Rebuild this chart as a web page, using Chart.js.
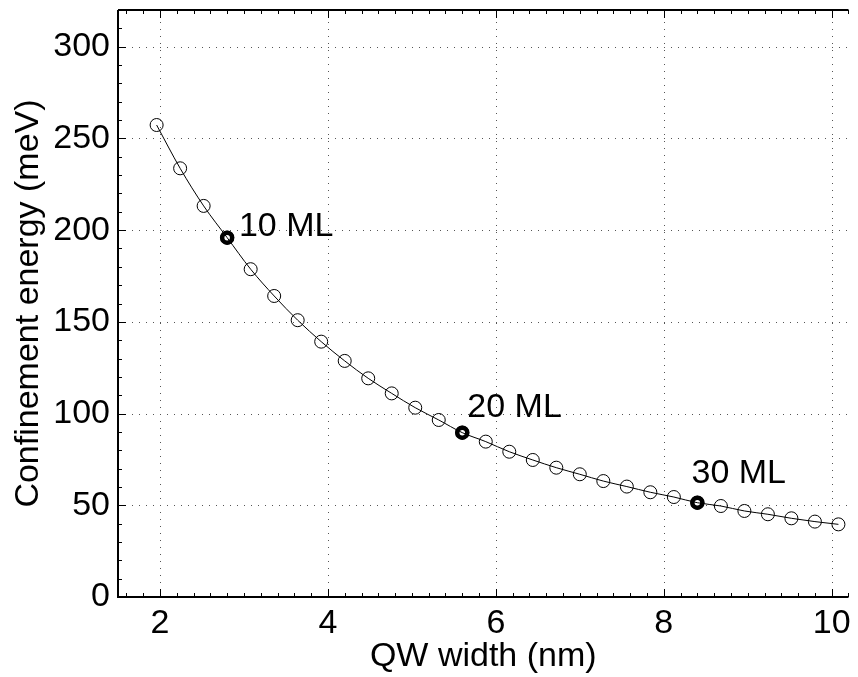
<!DOCTYPE html>
<html>
<head>
<meta charset="utf-8">
<script src="https://cdn.jsdelivr.net/npm/chart.js@4.4.0/dist/chart.umd.min.js"></script>
<style>
html, body { margin: 0; padding: 0; background: #fff; }
</style>
</head>
<body>
<canvas id="chart" width="858" height="677"></canvas>
<script>
// QW width (nm), one point per monolayer (7 ML ... 36 ML)
const widths = [1.96, 2.24, 2.52, 2.80, 3.08, 3.36, 3.64, 3.92, 4.20, 4.48,
                4.76, 5.04, 5.32, 5.60, 5.88, 6.16, 6.44, 6.72, 7.00, 7.28,
                7.56, 7.84, 8.12, 8.40, 8.68, 8.96, 9.24, 9.52, 9.80, 10.08];
// confinement energy (meV)
const energies = [257.3, 233.7, 213.2, 195.9, 178.7, 164.1, 150.9, 139.2, 128.7, 119.2,
                  111.0, 103.2, 96.5, 89.6, 84.7, 79.2, 74.7, 70.5, 66.9, 63.2,
                  60.2, 57.1, 54.5, 51.4, 49.6, 46.9, 45.1, 42.9, 41.1, 39.6];

// highlighted points
const markedNames = ['10 ML', '20 ML', '30 ML'];
const markedWidths = [2.80, 5.60, 8.40];
const markedEnergies = [195.9, 89.6, 51.4];
// where the label text starts (data units)
const labelX = [2.94, 5.66, 8.33];
const labelY = [202, 103, 67];

const xTicks = [2, 4, 6, 8, 10];
const yTicks = [0, 50, 100, 150, 200, 250, 300];

const FONT = '"Liberation Sans", Arial, Helvetica, sans-serif';
const FONT_SIZE = 34;

// frame, inward ticks, dotted grid and the ML labels
const framePlugin = {
    id: 'frame',
    beforeDatasetsDraw(chart) {
        const { ctx, chartArea: a, scales: { x, y } } = chart;
        ctx.save();

        // dotted grid
        ctx.strokeStyle = '#555';
        ctx.lineWidth = 1;
        ctx.setLineDash([1, 6]);
        xTicks.forEach(v => {
            const px = Math.round(x.getPixelForValue(v)) + 0.5;
            ctx.beginPath();
            ctx.moveTo(px, a.bottom);
            ctx.lineTo(px, a.top);
            ctx.stroke();
        });
        yTicks.forEach(v => {
            if (v === 0) return;
            const py = Math.round(y.getPixelForValue(v)) + 0.5;
            ctx.beginPath();
            ctx.moveTo(a.left, py);
            ctx.lineTo(a.right, py);
            ctx.stroke();
        });
        ctx.setLineDash([]);

        // ticks
        ctx.strokeStyle = '#000';
        ctx.lineWidth = 1;
        for (let v = 1.6; v <= 10.21; v += 0.2) {
            const major = Math.abs(v / 2 - Math.round(v / 2)) < 0.01;
            const len = major ? 8 : 4;
            const px = Math.round(x.getPixelForValue(v)) + 0.5;
            ctx.beginPath();
            ctx.moveTo(px, a.bottom);
            ctx.lineTo(px, a.bottom - len);
            ctx.moveTo(px, a.top);
            ctx.lineTo(px, a.top + len);
            ctx.stroke();
        }
        for (let v = 10; v <= 320; v += 10) {
            const len = v % 50 === 0 ? 8 : 4;
            const py = Math.round(y.getPixelForValue(v)) + 0.5;
            ctx.beginPath();
            ctx.moveTo(a.left, py);
            ctx.lineTo(a.left + len, py);
            ctx.stroke();
        }

        // axes lines
        ctx.lineWidth = 2;
        ctx.beginPath();
        ctx.moveTo(a.left, a.top);
        ctx.lineTo(a.right, a.top);
        ctx.moveTo(a.left, a.top);
        ctx.lineTo(a.left, a.bottom);
        ctx.lineTo(a.right, a.bottom);
        ctx.stroke();
        ctx.restore();
    },
    afterDatasetsDraw(chart) {
        const { ctx, scales: { x, y } } = chart;
        ctx.save();
        ctx.fillStyle = '#000';
        ctx.font = FONT_SIZE + 'px ' + FONT;
        ctx.textAlign = 'left';
        ctx.textBaseline = 'middle';
        markedNames.forEach((name, i) => {
            ctx.fillText(name, x.getPixelForValue(labelX[i]), y.getPixelForValue(labelY[i]));
        });
        ctx.restore();
    }
};

const ctx = document.getElementById('chart').getContext('2d');

const chart = new Chart(ctx, {
    type: 'scatter',
    data: {
        datasets: [
            {
                label: 'marked',
                data: markedWidths.map((w, i) => ({ x: w, y: markedEnergies[i] })),
                showLine: false,
                pointRadius: 5,
                pointBorderWidth: 4.5,
                pointBorderColor: '#000',
                pointBackgroundColor: 'rgba(0,0,0,0)',
                order: 0
            },
            {
                label: 'energy',
                data: widths.map((w, i) => ({ x: w, y: energies[i] })),
                showLine: true,
                borderColor: '#000',
                borderWidth: 1,
                cubicInterpolationMode: 'monotone',
                pointRadius: 6.5,
                pointBorderWidth: 1,
                pointBorderColor: '#000',
                pointBackgroundColor: 'rgba(0,0,0,0)',
                order: 1
            }
        ]
    },
    options: {
        responsive: false,
        animation: false,
        devicePixelRatio: 1,
        layout: { padding: { top: 10, right: 2, left: 0, bottom: 0 } },
        plugins: {
            legend: { display: false },
            tooltip: { enabled: false }
        },
        scales: {
            x: {
                type: 'linear',
                min: 1.5,
                max: 10.2,
                afterBuildTicks: scale => { scale.ticks = xTicks.map(v => ({ value: v })); },
                afterFit: scale => {
                    scale.height = 80;
                    scale.paddingLeft = 0;
                    scale.paddingRight = 0;
                },
                grid: { display: false, drawTicks: false },
                border: { display: false },
                ticks: {
                    color: '#000',
                    padding: 6,
                    maxRotation: 0,
                    font: { family: FONT, size: FONT_SIZE }
                },
                title: {
                    display: true,
                    text: 'QW width (nm)',
                    color: '#000',
                    padding: { top: 0, bottom: 0 },
                    font: { family: FONT, size: FONT_SIZE }
                }
            },
            y: {
                min: 0,
                max: 320,
                afterBuildTicks: scale => { scale.ticks = yTicks.map(v => ({ value: v })); },
                afterFit: scale => {
                    scale.width = 118;
                    scale.paddingTop = 0;
                    scale.paddingBottom = 0;
                },
                grid: { display: false, drawTicks: false },
                border: { display: false },
                ticks: {
                    color: '#000',
                    padding: 8,
                    font: { family: FONT, size: FONT_SIZE }
                },
                title: {
                    display: true,
                    text: 'Confinement energy (meV)',
                    color: '#000',
                    padding: { top: 8, bottom: 0 },
                    font: { family: FONT, size: FONT_SIZE }
                }
            }
        }
    },
    plugins: [framePlugin]
});
</script>
</body>
</html>
